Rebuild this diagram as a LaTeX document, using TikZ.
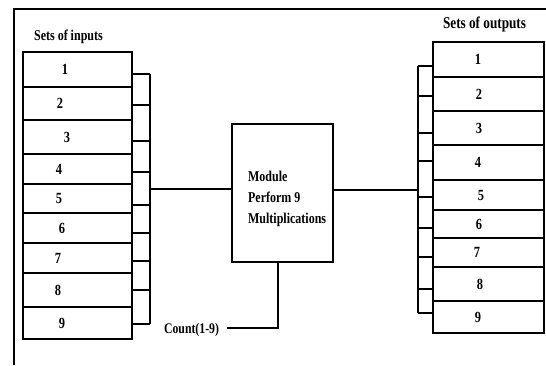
\documentclass[tikz,border=0pt]{standalone}
\usepackage{fontspec}
\setmainfont{Liberation Serif}
\newfontfamily\condfont[FakeStretch=0.8]{Liberation Serif}
\begin{document}
\begin{tikzpicture}[x=1pt,y=-1pt,line width=2.2pt,
  cell/.style={draw,inner sep=0pt,outer sep=0pt,minimum width=#1},
  num/.style={font=\condfont\fontsize{15.5}{17}\selectfont\bfseries,inner sep=0pt},
  lbl/.style={font=\condfont\fontsize{#1}{#1}\selectfont\bfseries,inner sep=0pt,anchor=base west}]
\useasboundingbox (0,0) rectangle (546,365);
% frame
\draw[line width=1.6pt] (14,365) -- (14,9) -- (546,9);
% titles
\node[lbl=15] (tin) at (33,40) {Sets of inputs};
\node[lbl=16.5] (tout) at (442,28) {Sets of outputs};
% input cells
\foreach \i/\t/\b/\nx in {1/52/87/65,2/87/120/60,3/120/154/67,4/154/184/59,5/184/213/59,6/213/243/62,7/243/273/58,8/273/307/58,9/307/339/62}{
  \node[cell=109pt,minimum height={(\b-\t)*1pt}] (in\i) at (77.5,{(\t+\b)/2}) {};
  \node[num] (ni\i) at (\nx,{(\t+\b)/2}) {\i};
}
% output cells
\foreach \i/\t/\b/\nx in {1/42/77/478,2/77/111/479,3/111/145/479,4/145/180/478,5/180/210/481,6/210/238/479,7/238/267/477,8/267/301/480,9/301/333/478}{
  \node[cell=111pt,minimum height={(\b-\t)*1pt}] (out\i) at (488.5,{(\t+\b)/2}) {};
  \node[num] (no\i) at (\nx,{(\t+\b)/2}) {\i};
}
% module
\node[draw,inner sep=0pt,outer sep=0pt,minimum width=101pt,minimum height=138pt] (mod) at (282.5,193) {};
\node[font=\condfont\fontsize{15}{21}\selectfont\bfseries,align=left,inner sep=0pt,anchor=base west] (mtxt) at (247,223)
      {Module\\Perform 9\\Multiplications};
% input bus
\coordinate (ibt) at (150,74);
\coordinate (ibb) at (150,324);
\draw (ibt) -- (ibb);
\foreach \i/\y in {1/74,2/105,3/141,4/172,5/205,6/233,7/261,8/290,9/324}{
  \draw (in\i.east |- 0,\y) -- (150,\y);
}
\coordinate (ibm) at (150,189);
\draw (ibm) -- (mod.west |- ibm);
% output bus
\coordinate (obt) at (418,66);
\coordinate (obb) at (418,313);
\draw (obt) -- (obb);
\foreach \i/\y in {1/66,2/96,3/133,4/161,5/197,6/228,7/257,8/289,9/313}{
  \draw (418,\y) -- (out\i.west |- 0,\y);
}
\coordinate (obm) at (418,190);
\draw (mod.east |- obm) -- (obm);
% count
\node[lbl=14.7] (cnt) at (163,333) {Count(1-9)};
\coordinate (cc) at (278,328);
\coordinate (ce) at (227,328);
\draw (mod.south -| cc) -- (cc) -- (ce);
\end{tikzpicture}
\end{document}
